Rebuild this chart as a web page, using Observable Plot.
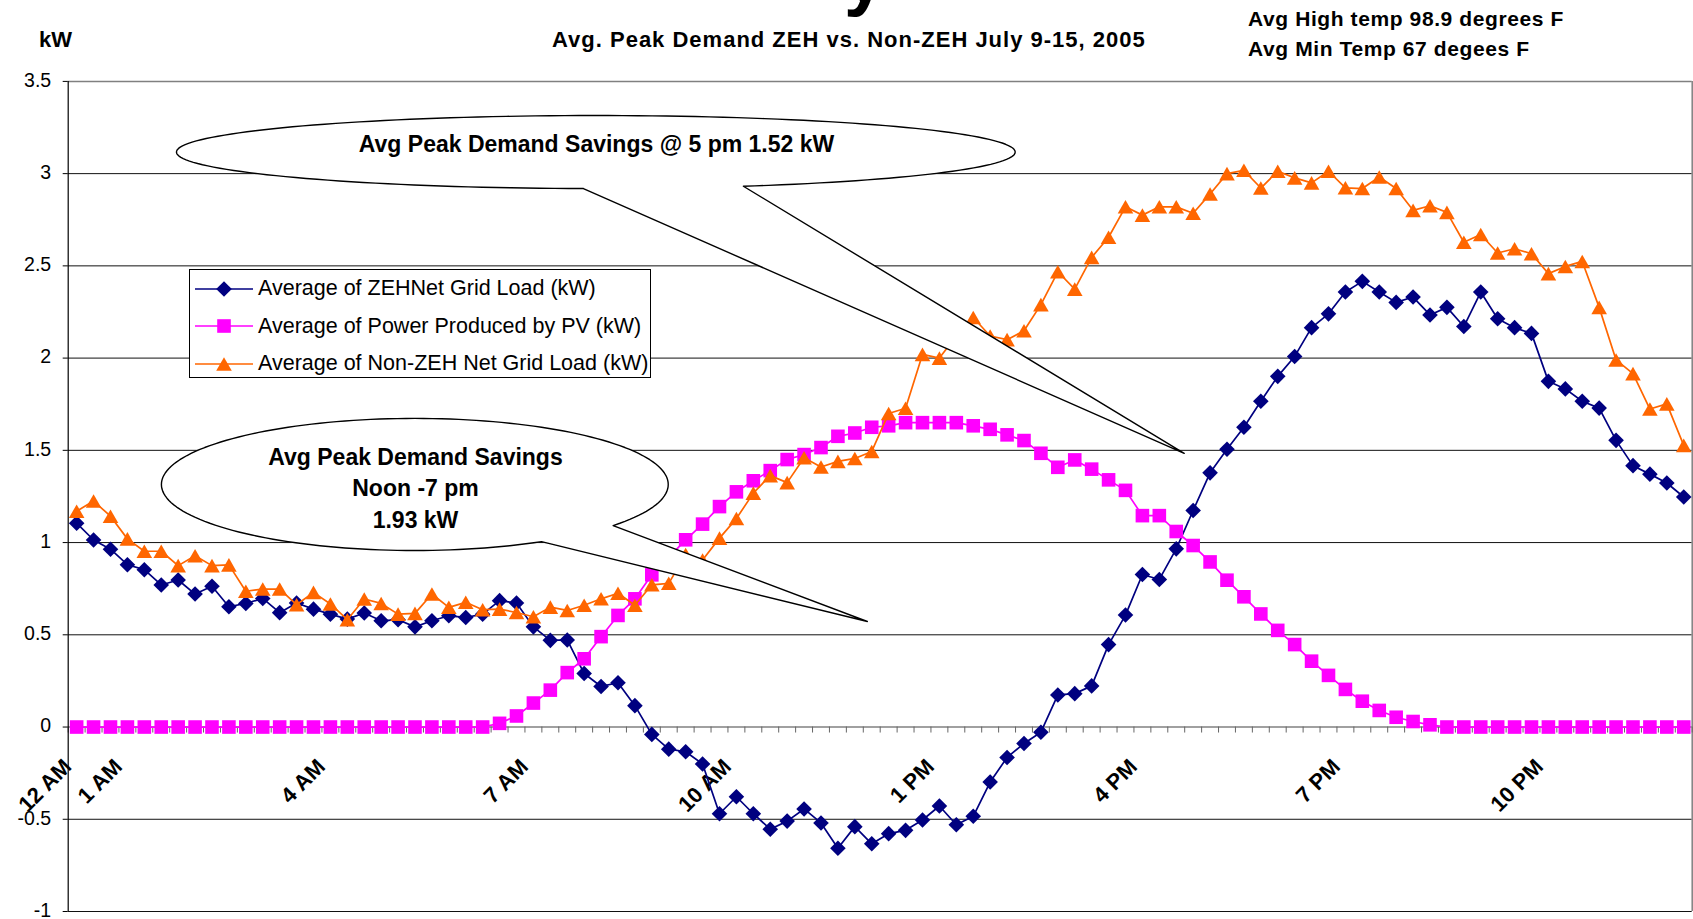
<!DOCTYPE html>
<html><head><meta charset="utf-8">
<script src="https://cdn.jsdelivr.net/npm/d3@7"></script>
<script src="https://cdn.jsdelivr.net/npm/@observablehq/plot@0.6"></script>
<style>
body{margin:0;background:#fff;}
#wrap{position:relative;width:1693px;height:919px;overflow:hidden;font-family:"Liberation Sans",Arial,sans-serif;background:#fff;}
#chart{position:absolute;left:0;top:0;}
.t{position:absolute;font-weight:bold;color:#000;white-space:nowrap;line-height:1;}
#legend{position:absolute;left:189px;top:269px;width:462px;height:109px;box-sizing:border-box;border:1.5px solid #000;background:#fff;}
.row{position:absolute;left:4px;height:36px;display:flex;align-items:center;font-size:21.5px;white-space:nowrap;}
.row span{margin-left:4px;}
</style></head><body>
<div id="wrap">
  <div id="chart"></div>
  <div class="t" style="left:844px;top:-60px;font-size:74px;">y</div>
  <div class="t" style="left:39px;top:29px;font-size:22px;">kW</div>
  <div class="t" style="left:552px;top:29px;font-size:22px;letter-spacing:1px;">Avg. Peak Demand ZEH vs. Non-ZEH July 9-15, 2005</div>
  <div class="t" style="left:1248px;top:8px;font-size:21px;letter-spacing:0.6px;">Avg High temp 98.9 degrees F</div>
  <div class="t" style="left:1248px;top:38px;font-size:21px;letter-spacing:0.6px;">Avg Min Temp 67 degees F</div>
  <div id="legend"></div>
</div>
<script>
// ---- data ----
const slots = d3.range(96); // 15-minute slots, 12:15 AM .. 12:00 AM
const zeh = [1.105,1.014,0.964,0.880,0.853,0.770,0.797,0.721,0.763,0.652,0.670,0.697,0.620,0.672,0.639,0.612,0.585,0.618,0.576,0.582,0.543,0.576,0.603,0.594,0.612,0.685,0.672,0.543,0.470,0.472,0.290,0.220,0.240,0.116,-0.040,-0.120,-0.134,-0.200,-0.470,-0.378,-0.470,-0.554,-0.510,-0.444,-0.520,-0.657,-0.540,-0.633,-0.578,-0.560,-0.504,-0.428,-0.530,-0.484,-0.298,-0.165,-0.089,-0.028,0.174,0.181,0.223,0.447,0.607,0.827,0.800,0.966,1.174,1.378,1.506,1.625,1.766,1.901,2.009,2.165,2.240,2.358,2.416,2.358,2.302,2.331,2.234,2.275,2.171,2.358,2.213,2.165,2.134,1.874,1.833,1.766,1.729,1.554,1.417,1.371,1.323,1.247];
const pv = [0,0,0,0,0,0,0,0,0,0,0,0,0,0,0,0,0,0,0,0,0,0,0,0,0,0.02,0.06,0.13,0.20,0.295,0.37,0.49,0.605,0.695,0.825,0.92,1.015,1.10,1.195,1.275,1.335,1.39,1.45,1.477,1.515,1.576,1.594,1.625,1.633,1.65,1.65,1.65,1.65,1.633,1.614,1.584,1.553,1.484,1.408,1.448,1.398,1.34,1.283,1.146,1.146,1.06,0.984,0.895,0.796,0.706,0.613,0.524,0.447,0.357,0.28,0.204,0.14,0.09,0.053,0.03,0.012,0,0,0,0,0,0,0,0,0,0,0,0,0,0,0];
const nonZeh = [1.17,1.225,1.143,1.02,0.953,0.953,0.875,0.929,0.875,0.879,0.736,0.748,0.748,0.663,0.73,0.667,0.582,0.694,0.67,0.612,0.616,0.721,0.649,0.676,0.636,0.639,0.621,0.598,0.65,0.632,0.66,0.695,0.725,0.66,0.771,0.779,0.935,0.905,1.024,1.13,1.268,1.363,1.325,1.46,1.41,1.44,1.456,1.494,1.70,1.728,2.02,2.0,2.12,2.22,2.12,2.10,2.148,2.29,2.468,2.374,2.546,2.655,2.82,2.775,2.82,2.82,2.785,2.89,3.0,3.018,2.922,3.013,2.977,2.95,3.013,2.923,2.919,2.982,2.919,2.801,2.826,2.79,2.628,2.67,2.57,2.593,2.566,2.458,2.497,2.524,2.275,1.99,1.916,1.724,1.752,1.527];
const seriesNames = ["Average of ZEHNet Grid Load (kW)","Average of Power Produced by PV (kW)","Average of Non-ZEH Net Grid Load (kW)"];
const seriesColors = ["#000080","#FF00FF","#FF6600"];
const xTickLabels = ["12 AM","1 AM","4 AM","7 AM","10 AM","1 PM","4 PM","7 PM","10 PM"];
const xTickSlots = [0,3,15,27,39,51,63,75,87];
const yTicks = [3.5,3,2.5,2,1.5,1,0.5,0,-0.5,-1];
const yTickLabels = ["3.5","3","2.5","2","1.5","1","0.5","0","-0.5","-1"];
const calloutTexts = [
  {x:30.73, y:3.158, text:"Avg Peak Demand Savings @ 5 pm 1.52 kW"},
  {x:20.03, y:1.462, text:"Avg Peak Demand Savings"},
  {x:20.03, y:1.294, text:"Noon -7 pm"},
  {x:20.03, y:1.121, text:"1.93 kW"}
];
const calloutShapes = [
  {cx:30.69, cy:3.117, rx:24.79, ry:0.198, tA:91.7, tB:429.4, tipX:65.47, tipY:1.484},
  {cx:19.99, cy:1.315, rx:14.98, ry:0.358, tA:60, tB:398.5, tipX:46.74, tipY:0.572}
];

// ---- symbols (Excel-like markers) ----
const diamondSym = {draw(c, s){const r=Math.sqrt(s/Math.PI); c.moveTo(0,-r); c.lineTo(r,0); c.lineTo(0,r); c.lineTo(-r,0); c.closePath();}};
const squareSym = {draw(c, s){const r=Math.sqrt(s/Math.PI); c.moveTo(-r,-r); c.lineTo(r,-r); c.lineTo(r,r); c.lineTo(-r,r); c.closePath();}};
const triSym = {draw(c, s){const r=Math.sqrt(s/Math.PI); const h=r*0.87; c.moveTo(0,-h); c.lineTo(r,h); c.lineTo(-r,h); c.closePath();}};
const symbols = [diamondSym, squareSym, triSym];
const symR = [7.8, 6.8, 7.8];

const series = [zeh, pv, nonZeh].map((vals, s) => slots.map(i => ({slot:i, v:vals[i], s})));

// callout outline points
const calloutPts = [];
calloutShapes.forEach((c, id) => {
  for (let t = c.tA; t <= c.tB + 1e-9; t += 2) {
    const a = t*Math.PI/180;
    calloutPts.push({id, x:c.cx + c.rx*Math.cos(a), y:c.cy - c.ry*Math.sin(a)});
  }
  const b = c.tB*Math.PI/180;
  calloutPts.push({id, x:c.cx + c.rx*Math.cos(b), y:c.cy - c.ry*Math.sin(b)});
  calloutPts.push({id, x:c.tipX, y:c.tipY});
  const a0 = c.tA*Math.PI/180;
  calloutPts.push({id, x:c.cx + c.rx*Math.cos(a0), y:c.cy - c.ry*Math.sin(a0)});
});

const font = "Liberation Sans, Arial, sans-serif";
const tickLen = 6/184.47;
const marks = [
  Plot.ruleY(yTicks.filter(d => d !== 0 && d !== 3.5), {stroke:"#111", strokeWidth:1}),
  Plot.ruleY([3.5], {stroke:"#808080", strokeWidth:1.5}),
  Plot.ruleX([95.5], {stroke:"#808080", strokeWidth:1.5}),
  Plot.ruleY([0], {stroke:"#808080", strokeWidth:1.6}),
  Plot.ruleX(d3.range(97).map(j => j - 0.5), {y1:0, y2:-tickLen, stroke:"#666", strokeWidth:1}),
  Plot.ruleX([-0.5], {stroke:"#000", strokeWidth:1.2}),
  Plot.ruleY(yTicks, {x1:-0.5 - 5/16.92, x2:-0.5, stroke:"#000", strokeWidth:1}),
  Plot.text(yTicks, {y:d => d, frameAnchor:"left", dx:-17, dy:-1, textAnchor:"end", text:(d,i) => yTickLabels[i], fontSize:19.5, fill:"#000", fontFamily:font}),
  Plot.text(xTickSlots, {x:d => d, y:() => 0, dx:-4, dy:41, rotate:-45, textAnchor:"end", lineAnchor:"bottom", text:(d,i) => xTickLabels[i], fontSize:22, fontWeight:"bold", fill:"#000", fontFamily:font})
];
series.forEach((data, s) => {
  marks.push(Plot.line(data, {x:"slot", y:"v", stroke:seriesColors[s], strokeWidth:1.7}));
  marks.push(Plot.dot(data, {x:"slot", y:"v", symbol:symbols[s], r:symR[s], fill:seriesColors[s], stroke:"none"}));
});
marks.push(Plot.line(calloutPts, {x:"x", y:"y", z:"id", fill:"white", stroke:"#000", strokeWidth:1.4, curve:"linear"}));
marks.push(Plot.text(calloutTexts, {x:"x", y:"y", text:"text", fontSize:23, fontWeight:"bold", fill:"#000", fontFamily:font, textAnchor:"middle", style:"letter-spacing:0.8px"}));

const chart = Plot.plot({
  width:1693, height:919,
  marginLeft:67.7, marginRight:1.3, marginTop:80.9, marginBottom:8,
  x:{type:"linear", domain:[-0.5, 95.5], axis:null},
  y:{type:"linear", domain:[-1, 3.5], axis:null},
  style:{fontFamily:font, background:"white", overflow:"visible"},
  marks
});
document.getElementById("chart").appendChild(chart);

// legend
const legend = d3.select("#legend");
seriesNames.forEach((name, s) => {
  const row = legend.append("div").attr("class","row").style("top", (18.5 + s*37.5 - 18) + "px");
  const svg = row.append("svg").attr("width", 60).attr("height", 30);
  svg.append("line").attr("x1",1).attr("x2",59).attr("y1",15).attr("y2",15).attr("stroke",seriesColors[s]).attr("stroke-width",1.6);
  const p = d3.path(); symbols[s].draw(p, symR[s]*symR[s]*Math.PI);
  svg.append("path").attr("d", p.toString()).attr("transform","translate(30,15)").attr("fill",seriesColors[s]);
  row.append("span").text(name);
});
</script>
</body></html>
